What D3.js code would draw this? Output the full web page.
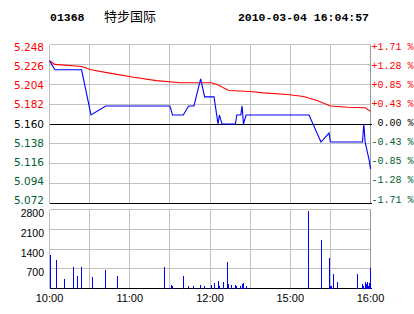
<!DOCTYPE html>
<html>
<head>
<meta charset="utf-8">
<script src="https://cdn.jsdelivr.net/npm/d3@7"></script>
<style>
  body { margin: 0; background: #fff; }
  svg { display: block; }
  text { white-space: pre; }
</style>
</head>
<body>
<div id="chart"></div>
<script>
'use strict';

// Header
let stockCode = '01368';
let stockName = '特步国际';
let stamp = '2010-03-04 16:04:57';

// Price axis
let prevClose = 5.160;
let priceTicks = [5.248, 5.226, 5.204, 5.182, 5.160, 5.138, 5.116, 5.094, 5.072];

// Volume axis
let volTicks = [2800, 2100, 1400, 700];

// Time axis (trading minutes from 10:00, lunch break removed)
let timeTickMinutes = [0, 60, 120, 180, 240];
let timeTickLabels = ['10:00', '11:00', '12:00', '15:00', '16:00'];

// Last price
let priceMinutes = [0, 4, 24, 31, 42, 90, 92, 100, 104, 108, 113, 116, 123, 126, 127, 129, 139, 140, 143, 144, 145, 147, 194, 203, 209, 210, 234, 235, 236, 239, 240];
let priceValues  = [5.230, 5.220, 5.220, 5.170, 5.180, 5.180, 5.170, 5.170, 5.180, 5.180, 5.210, 5.190, 5.190, 5.160, 5.170, 5.160, 5.160, 5.170, 5.170, 5.180, 5.160, 5.170, 5.170, 5.140, 5.150, 5.140, 5.140, 5.160, 5.140, 5.120, 5.110];

// Average price
let avgMinutes = [0, 4, 24, 31, 46, 63, 80, 98, 121, 126, 130, 134, 150, 160, 178, 190, 200, 210, 223, 236, 240];
let avgValues  = [5.230, 5.226, 5.2236, 5.220, 5.216, 5.2118, 5.208, 5.2056, 5.2056, 5.2034, 5.200, 5.197, 5.196, 5.1945, 5.1926, 5.1904, 5.186, 5.180, 5.1786, 5.178, 5.174];

// Volume
let volMinutes = [1, 5, 11, 18, 21, 24, 32, 42, 51, 86, 91, 92, 100, 104, 108, 113, 116, 121, 123, 126, 127, 130, 133, 134, 136, 139, 140, 143, 144, 145, 147, 194, 203, 209, 210, 211, 212, 215, 230, 234, 235, 236.5, 237.3, 238, 238.8, 239.5, 240];
let volValues  = [1180, 1000, 330, 755, 436, 755, 400, 650, 436, 755, 118, 100, 436, 100, 100, 118, 100, 118, 188, 259, 100, 223, 932, 152, 118, 118, 100, 100, 152, 188, 100, 2740, 1712, 1074, 100, 100, 507, 223, 507, 152, 100, 223, 152, 223, 100, 188, 720];

// Formatting
let width = 414;
let height = 314;
let plotLeft = 49.5;
let plotRight = 370.5;
let priceTop = 44.5;
let priceBottom = 203.5;
let volTop = 209.5;
let volBottom = 288.5;

let gridColor = '#c0c0c0';
let upColor = '#ff0000';
let downColor = '#006030';
let lineColor = '#0000ff';

let colorFor = (p) => p > prevClose + 1e-9 ? upColor : (p < prevClose - 1e-9 ? downColor : '#000');
let pctLabel = (p) => {
  let pct = (p - prevClose) / prevClose * 100;
  if (Math.abs(pct) < 0.005) return ' 0.00 %';
  return (pct > 0 ? '+' : '-') + Math.abs(pct).toFixed(2) + ' %';
};

function setup(){
  let svg = d3.select('#chart').append('svg')
    .attr('width', width)
    .attr('height', height);

  let x = d3.scaleLinear().domain([0, 240]).range([plotLeft, plotRight]);
  let yPrice = d3.scaleLinear().domain([5.072, 5.248]).range([priceBottom, priceTop]);
  // labels sit a little tighter than the grid
  let yLabel = d3.scaleLinear().domain([5.072, 5.248]).range([200, 47]);
  let yVol = d3.scaleLinear().domain([0, 2800]).range([volBottom, volTop]);
  let px = (v) => Math.round(v - 0.5) + 0.5;

  // Header
  let head = svg.append('g').attr('font-weight', 'bold').attr('font-size', '11.5px')
    .attr('font-family', '"Liberation Mono", "DejaVu Sans Mono", monospace');
  head.append('text').attr('x', 50).attr('y', 20.5).text(stockCode);
  head.append('text').attr('x', 369).attr('y', 20.5).attr('text-anchor', 'end').text(stamp);
  svg.append('text').attr('x', 104).attr('y', 20.5)
    .attr('font-family', '"Noto Sans CJK SC", sans-serif').attr('font-size', '13px')
    .text(stockName);

  let gridMinutes = d3.range(0, 241, 30);

  // Price panel grid
  let grid = svg.append('g').attr('stroke', gridColor).attr('shape-rendering', 'crispEdges');
  grid.selectAll('.vgrid').data(gridMinutes).enter().append('line')
    .attr('x1', (d) => px(x(d))).attr('x2', (d) => px(x(d)))
    .attr('y1', priceTop).attr('y2', priceBottom);
  grid.selectAll('.hgrid').data(priceTicks.filter((d) => d !== prevClose && d !== 5.072)).enter().append('line')
    .attr('x1', plotLeft).attr('x2', plotRight)
    .attr('y1', (d) => px(yPrice(d))).attr('y2', (d) => px(yPrice(d)));

  // Volume panel grid
  grid.selectAll('.vgrid2').data(gridMinutes).enter().append('line')
    .attr('x1', (d) => px(x(d))).attr('x2', (d) => px(x(d)))
    .attr('y1', volTop).attr('y2', volBottom);
  grid.selectAll('.hgrid2').data(volTicks).enter().append('line')
    .attr('x1', plotLeft).attr('x2', plotRight)
    .attr('y1', (d) => px(yVol(d))).attr('y2', (d) => px(yVol(d)));

  // Right borders
  svg.append('g').attr('stroke', '#999').attr('shape-rendering', 'crispEdges')
    .selectAll('line').data([[priceTop, priceBottom], [volTop, volBottom]]).enter().append('line')
    .attr('x1', px(plotRight)).attr('x2', px(plotRight))
    .attr('y1', (d) => d[0]).attr('y2', (d) => d[1]);

  // Previous close and bottom lines
  let base = svg.append('g').attr('stroke', '#000').attr('shape-rendering', 'crispEdges');
  [px(yPrice(prevClose)), px(priceBottom), px(volBottom)].forEach((yy) => {
    base.append('line').attr('x1', plotLeft).attr('x2', plotRight + 1).attr('y1', yy).attr('y2', yy);
  });

  // Lines
  let avgData = avgMinutes.map((t, i) => [t, avgValues[i]]);
  let priceData = priceMinutes.map((t, i) => [t, priceValues[i]]);
  let line = d3.line().x((d) => x(d[0])).y((d) => yPrice(d[1]));
  svg.append('path').datum(avgData).attr('d', line)
    .attr('fill', 'none').attr('stroke', upColor).attr('stroke-width', 1.1);
  svg.append('path').datum(priceData).attr('d', line)
    .attr('fill', 'none').attr('stroke', lineColor).attr('stroke-width', 1.1);

  // Volume bars
  let volData = volMinutes.map((t, i) => [t, volValues[i]]);
  svg.append('g').attr('stroke', lineColor).attr('shape-rendering', 'crispEdges')
    .selectAll('line').data(volData).enter().append('line')
    .attr('x1', (d) => px(x(d[0]))).attr('x2', (d) => px(x(d[0])))
    .attr('y1', yVol(0)).attr('y2', (d) => yVol(d[1]));

  // Left price labels
  svg.append('g').attr('font-family', '"DejaVu Sans", Verdana, sans-serif').attr('font-size', '10.5px')
    .selectAll('text').data(priceTicks).enter().append('text')
    .attr('x', 44).attr('y', (d) => yLabel(d))
    .attr('dominant-baseline', 'central').attr('text-anchor', 'end')
    .attr('fill', colorFor)
    .text((d) => d.toFixed(3));

  // Right percent labels
  svg.append('g').attr('font-family', '"Liberation Mono", "DejaVu Sans Mono", monospace').attr('font-size', '10px')
    .selectAll('text').data(priceTicks).enter().append('text')
    .attr('x', 371.5).attr('y', (d) => yLabel(d))
    .attr('dominant-baseline', 'central')
    .attr('fill', colorFor)
    .text(pctLabel);

  // Volume labels
  svg.append('g').attr('font-family', '"Liberation Sans", Arial, sans-serif').attr('font-size', '10.5px')
    .selectAll('text').data(volTicks).enter().append('text')
    .attr('x', 44).attr('y', (d) => yVol(d) + 3.5)
    .attr('dominant-baseline', 'central').attr('text-anchor', 'end')
    .text((d) => d);

  // Time labels
  svg.append('g').attr('font-family', '"Liberation Sans", Arial, sans-serif').attr('font-size', '11px')
    .selectAll('text').data(timeTickMinutes).enter().append('text')
    .attr('x', (d) => x(d)).attr('y', 302)
    .attr('text-anchor', 'middle')
    .text((d, i) => timeTickLabels[i]);
}

window.onload = setup;
</script>
</body>
</html>
